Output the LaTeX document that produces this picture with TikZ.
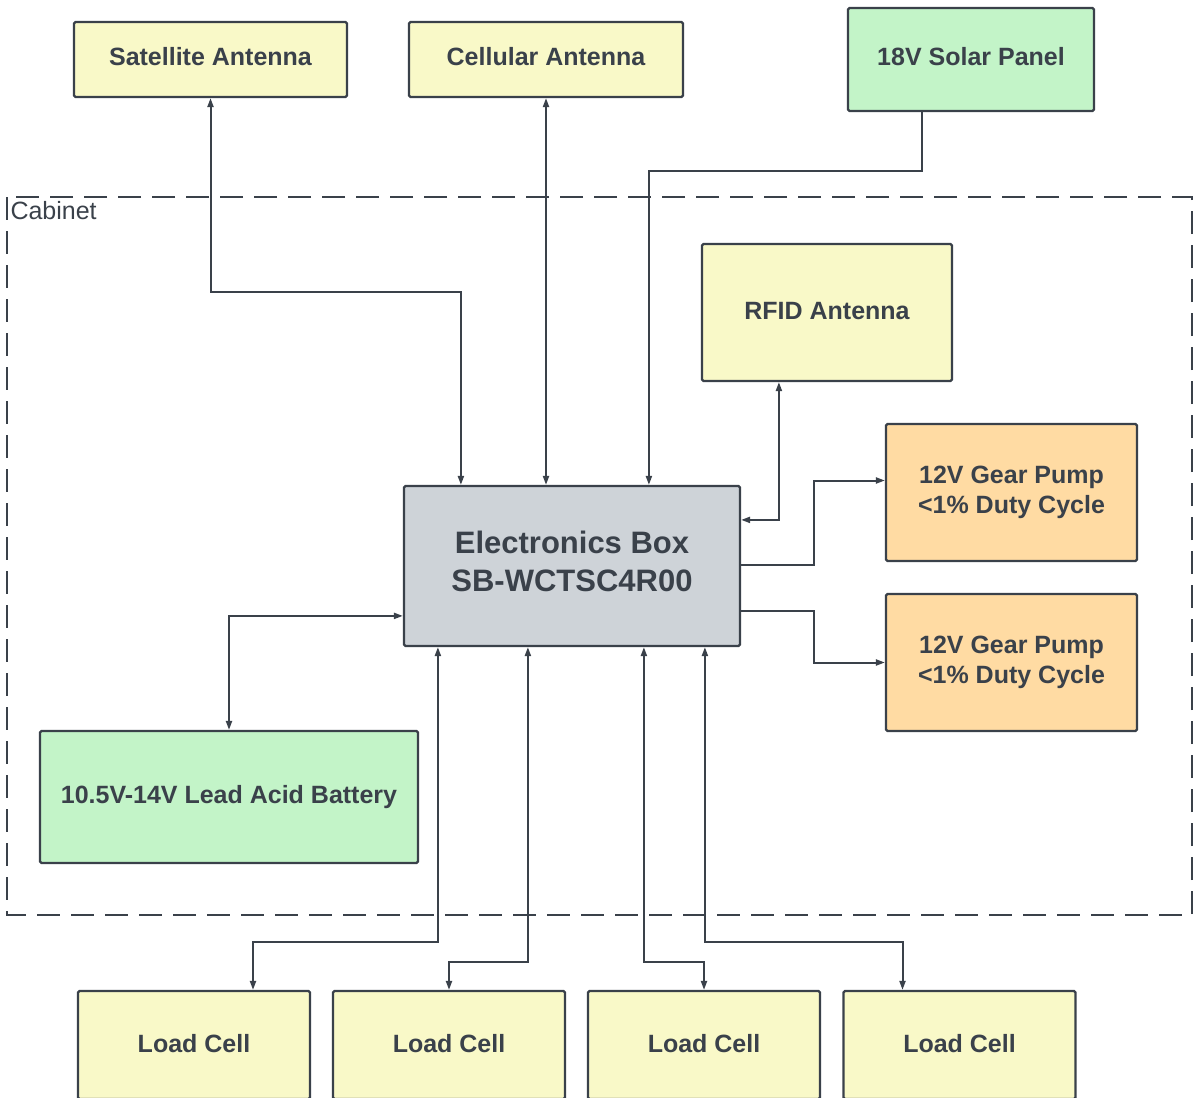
\documentclass[tikz,border=0pt]{standalone}
\usepackage{fontspec}
\setmainfont{Liberation Sans}
\usepackage{xcolor}
\usepackage{tikz}
\usetikzlibrary{arrows.meta}
\definecolor{ink}{HTML}{3A414A}
\definecolor{paleyel}{HTML}{F9F9C8}
\definecolor{palegrn}{HTML}{C3F4C8}
\definecolor{paleorg}{HTML}{FFDBA3}
\definecolor{palegry}{HTML}{CED3D8}

\begin{document}
\begin{tikzpicture}[x=1pt,y=-1pt,
    blk/.style={draw=ink, line width=2.2pt, rounded corners=1.5pt, text=ink,
                font=\fontsize{25}{30}\selectfont\bfseries, align=center, inner sep=0pt},
    tip/.tip={Triangle[length=9pt,width=6pt]},
    wire/.style={draw=ink, line width=2pt},
    fwd/.style={wire, -tip},
    dbl/.style={wire, tip-tip}]
                \useasboundingbox (0,0) rectangle (1193,1097);
                \draw[ink, line width=2.2pt, dash pattern=on 23pt off 11pt] (7,197) rectangle (1192,915);
                \node[anchor=north west, text=ink, font=\fontsize{25}{30}\selectfont] (cab) at (7,198) {Cabinet};
                \node[blk, fill=paleyel, minimum width=273pt, minimum height=75pt, text depth=6pt] (sat) at (210.5,59.5) {Satellite Antenna};
                \node[blk, fill=paleyel, minimum width=274pt, minimum height=75pt, text depth=6pt] (cell) at (546,59.5) {Cellular Antenna};
                \node[blk, fill=palegrn, minimum width=246pt, minimum height=103pt, text depth=6pt] (solar) at (971,59.5) {18V Solar Panel};
                \node[blk, fill=paleyel, minimum width=250pt, minimum height=137pt, text depth=3pt] (rfid) at (827,312.5) {RFID Antenna};
                \node[blk, fill=palegry, minimum width=336pt, minimum height=160pt, text depth=10pt, font=\fontsize{31}{38}\selectfont\bfseries] (ebox) at (572,566) {Electronics Box\\SB-WCTSC4R00};
                \node[blk, fill=paleorg, minimum width=251pt, minimum height=137pt] (pumpA) at (1011.5,492.5) {12V Gear Pump\\<1\% Duty Cycle};
                \node[blk, fill=paleorg, minimum width=251pt, minimum height=137pt] (pumpB) at (1011.5,662.5) {12V Gear Pump\\<1\% Duty Cycle};
                \node[blk, fill=palegrn, minimum width=378pt, minimum height=132pt] (batt) at (229,797) {10.5V-14V Lead Acid Battery};
                \node[blk, fill=paleyel, minimum width=232pt, minimum height=108pt, text depth=4pt] (load1) at (194,1045) {Load Cell};
                \node[blk, fill=paleyel, minimum width=232pt, minimum height=108pt, text depth=4pt] (load2) at (449,1045) {Load Cell};
                \node[blk, fill=paleyel, minimum width=232pt, minimum height=108pt, text depth=4pt] (load3) at (704,1045) {Load Cell};
                \node[blk, fill=paleyel, minimum width=232pt, minimum height=108pt, text depth=4pt] (load4) at (959.5,1045) {Load Cell};
                \draw[dbl] (sat.south) -- ++(0,194) -| ([xshift=58pt]ebox.north west);
                \draw[dbl] (cell.south) -- (cell.south |- ebox.north);
                \draw[fwd] ([xshift=-49pt]solar.south) -- ++(0,59) -| ([xshift=246pt]ebox.north west);
                \draw[dbl] ([xshift=78pt]rfid.south west) |- ([yshift=-35pt]ebox.north east);
                \draw[fwd] ([yshift=-80pt]ebox.north east) -- ++(73,0) |- ([yshift=12pt]pumpA.west);
                \draw[fwd] ([yshift=-126pt]ebox.north east) -- ++(73,0) |- (pumpB.west);
                \draw[dbl] (batt.north) |- ([yshift=-131pt]ebox.north west);
                \draw[dbl] ([xshift=35pt]ebox.south west) -- ++(0,295) -| ([xshift=59pt]load1.north);
                \draw[dbl] ([xshift=125pt]ebox.south west) -- ++(0,315) -| (load2.north);
                \draw[dbl] ([xshift=241pt]ebox.south west) -- ++(0,315) -| (load3.north);
                \draw[dbl] ([xshift=302pt]ebox.south west) -- ++(0,295) -| ([xshift=-57pt]load4.north);
            \end{tikzpicture}
\end{document}
